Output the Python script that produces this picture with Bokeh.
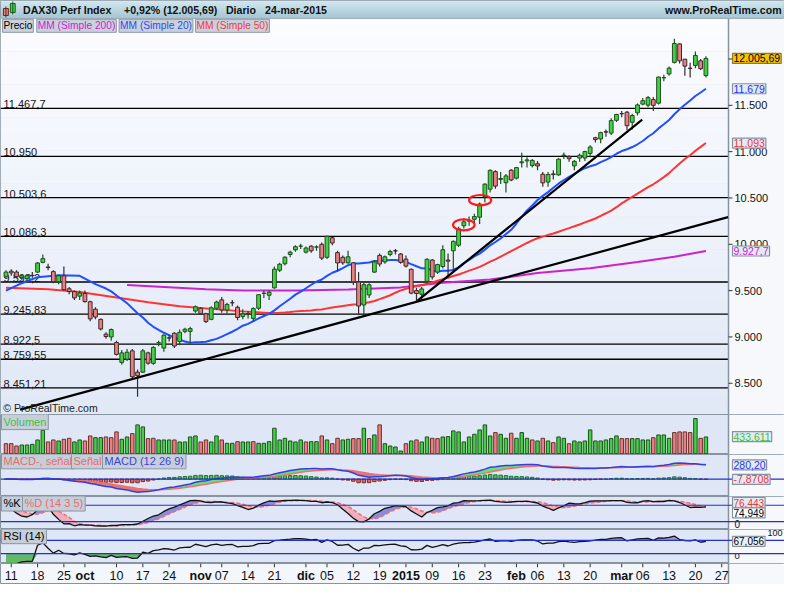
import numpy as np
import pandas as pd
from bokeh.plotting import figure
from bokeh.layouts import column
from bokeh.models import ColumnDataSource, Range1d, Label, BoxAnnotation, Span
from bokeh.embed import file_html
from bokeh.resources import INLINE
from bokeh.core.properties import value

FONT = "Liberation Sans"

# ---------------- data ----------------
holidays = ["2014-10-03", "2014-12-24", "2014-12-25", "2014-12-26", "2014-12-31", "2015-01-01"]

opens = [9650,9710,9700,9640,9630,9665,9700,9805,9755,9705,
         9595,9660,9520,9490,9440,9470,9380,9300,9190,9030,
         9000,8940,8725,8760,8850,8620,8620,8828,8715,8940,
         8880,8990,9040,8950,9060,9060,9280,9310,9250,9190,
         9310,9400,9290,9370,9320,9220,9250,9200,9310,9470,
         9450,9530,9720,9790,9890,9940,9980,9915,9980,9970,
         10000,9860,10070,9910,9860,9800,9800,9593,9345,9453,
         9700,9880,9810,9890,9930,9895,9840,9730,9500,9460,
         9600,9830,9700,9760,9830,9930,9990,10200,10250,10270,
         10293,10514,10595,10784,10700,10665,10800,10714,10880,10900,
         10850,10870,10756,10672,10760,10749,10955,10945,10847,10931,
         10931,10980,11150,11137,11215,11200,11338,11410,11426,11317,
         11419,11513,11502,11562,11523,11797,11839,11963,12163,11998,
         11900,11930,11980,11821]
highs = [9720,9730,9720,9680,9680,9700,9810,9891,9790,9720,
         9670,9760,9540,9500,9500,9500,9390,9320,9200,9050,
         9090,8960,8860,8870,8870,8650,8870,8840,8900,8960,
         9030,9020,9050,9080,9100,9110,9340,9320,9260,9330,
         9390,9430,9370,9400,9340,9300,9280,9320,9460,9500,
         9500,9760,9800,9870,9930,9990,10005,9975,9990,9990,
         10020,10093,10080,9930,9880,9930,9810,9700,9600,9580,
         9830,9900,9880,9940,9950,9905,9880,9740,9530,9540,
         9850,9840,9790,9990,9900,10040,10190,10280,10300,10330,
         10450,10660,10810,10800,10780,10760,10810,10835,10987,10940,
         10920,10900,10780,10780,10800,10930,10990,10960,10910,10980,
         11010,11070,11160,11215,11240,11360,11410,11440,11440,11410,
         11520,11580,11600,11590,11810,11830,11920,12219,12170,12000,
         11960,12080,12000,12030]
lows = [9640,9660,9630,9610,9600,9640,9690,9795,9720,9580,
        9570,9500,9460,9400,9400,9370,9170,9190,9070,8980,
        8960,8800,8700,8740,8550,8355,8610,8700,8700,8900,
        8840,8950,8880,8910,9040,8930,9260,9240,9150,9180,
        9290,9260,9250,9330,9180,9190,9200,9160,9290,9420,
        9400,9520,9700,9770,9860,9920,9950,9900,9910,9930,
        9830,9840,9990,9710,9780,9790,9560,9235,9219,9420,
        9690,9760,9790,9870,9890,9790,9750,9460,9380,9400,
        9580,9620,9680,9740,9640,9690,9970,10170,10200,10220,
        10220,10450,10560,10600,10650,10560,10680,10700,10830,10830,
        10830,10800,10620,10620,10700,10740,10920,10890,10800,10890,
        10900,10940,11100,11090,11160,11180,11320,11370,11230,11240,
        11390,11500,11480,11440,11510,11760,11820,11950,11950,11820,
        11800,11900,11880,11800]
closes = [9700,9691,9651,9660,9662,9661,9798,9845,9749,9595,
          9661,9510,9490,9422,9474,9382,9195,9215,9086,9005,
          9080,8812,8828,8835,8571,8582,8850,8717,8887,8940,
          9019,8988,8902,9050,9083,9090,9326,9251,9166,9315,
          9377,9291,9351,9369,9210,9249,9252,9306,9456,9472,
          9483,9732,9785,9861,9915,9974,9980,9960,9930,9971,
          9851,10087,10014,9799,9800,9865,9594,9334,9564,9563,
          9811,9787,9865,9922,9928,9805,9765,9473,9469,9518,
          9838,9648,9781,9941,9818,10032,10167,10242,10257,10299,
          10435,10649,10798,10628,10710,10738,10694,10828,10890,10911,
          10905,10846,10663,10753,10752,10919,10963,10924,10895,10961,
          11001,11050,11131,11205,11211,11335,11401,11409,11280,11390,
          11504,11550,11583,11500,11805,11799,11901,12167,11980,11923,
          11899,12039,11895,12006]
volumes_k = [255,255,196,221,221,238,349,595,298,349,
             323,366,391,298,349,323,451,408,408,425,
             408,553,366,425,510,731,680,383,391,349,
             349,349,349,298,298,425,451,298,349,298,
             451,349,264,264,306,298,298,306,264,264,
             306,646,349,391,323,298,349,298,306,306,
             451,349,255,391,349,366,383,383,646,383,
             476,731,255,196,
             170,68,255,323,349,298,425,391,383,425,
             434,578,553,298,425,493,604,731,451,536,
             493,391,519,391,536,391,349,323,391,323,
             281,425,391,255,323,298,323,604,323,323,
             349,383,451,383,383,383,383,349,349,408,
             476,476,391,536,553,553,536,893,391,425]
volume_up = ("rrrgggggrr" "grrggrrggr" "rrggrggrrg" "ggrggggrrg" "grggrggrgg"
             "gggggggrgg" "rgrrggrrgr" "grgg"
             "ggrgrggrrg" "gggggggggr" "ggrgggrgrg" "rggrgggggg"
             "gggrrggggr" "gggrrrrgrg")

# moving averages: values read before the computed window is complete
ma20_lead_idx = [0, 3, 6, 10, 14, 17]
ma20_lead_val = [9500, 9580, 9645, 9665, 9660, 9570]
ma50_lead_idx = [0, 8, 14, 21, 27, 33, 39, 45]
ma50_lead_val = [9531, 9514, 9486, 9426, 9374, 9332, 9303, 9276]
ma200_idx = [23, 30, 38, 45, 55, 65, 75, 83, 92, 101, 111, 120, 127, 133]
ma200_val = [9562, 9540, 9515, 9500, 9500, 9512, 9535, 9584, 9619, 9689, 9742, 9810, 9865, 9928]

levels = [11467.7, 10950, 10503.6, 10086.3, 9593.2, 9245.83, 8922.5, 8759.55, 8451.21]
level_labels = ["11.467,7", "10.950", "10.503,6", "10.086,3", "9.593,2", "9.245,83", "8.922,5", "8.759,55", "8.451,21"]

trend_long_idx = [2.68, 137.2]
trend_long_val = [8216, 10293]
trend_steep_idx = [78.2, 120.9]
trend_steep_val = [9391, 11345]

ellipse_idx = [87.0, 90.1]
ellipse_val = [10210, 10476]

price_ticks = [8500, 9000, 9500, 10000, 10500, 11000, 11500, 12000]
price_tick_labels = ["8.500", "9.000", "9.500", "10.000", "10.500", "11.000", "11.500", "12.000"]
tick_dates = ["2014-09-11", "2014-09-18", "2014-09-25", "2014-10-01", "2014-10-10", "2014-10-17", "2014-10-24",
              "2014-11-03", "2014-11-07", "2014-11-14", "2014-11-21", "2014-12-01", "2014-12-05", "2014-12-12",
              "2014-12-19", "2015-01-02", "2015-01-09", "2015-01-16", "2015-01-23", "2015-02-02", "2015-02-06",
              "2015-02-13", "2015-02-20", "2015-03-02", "2015-03-06", "2015-03-13", "2015-03-20", "2015-03-27"]
tick_labels = ["11", "18", "25", "oct", "10", "17", "24", "nov", "07", "14", "21", "dic", "05", "12", "19",
               "2015", "09", "16", "23", "feb", "06", "13", "20", "mar", "06", "13", "20", "27"]
month_labels = {"oct", "nov", "dic", "2015", "feb", "mar"}

# ---------------- derived ----------------
trading = [d.strftime("%Y-%m-%d") for d in pd.bdate_range("2014-09-10", "2015-03-31")
           if d.strftime("%Y-%m-%d") not in holidays]
pos = {d: i for i, d in enumerate(trading)}
N = len(closes)
idx = np.arange(N)
o = np.array(opens, float); h = np.array(highs, float); l = np.array(lows, float); c = np.array(closes, float)
cs = pd.Series(c)
ma20 = cs.rolling(20).mean().values
ma50 = cs.rolling(50).mean().values
ma20_x = ma20_lead_idx + list(range(19, N)); ma20_y = ma20_lead_val + list(ma20[19:])
ma50_x = ma50_lead_idx + list(range(49, N)); ma50_y = ma50_lead_val + list(ma50[49:])

ema12 = cs.ewm(span=12, adjust=False).mean(); ema26 = cs.ewm(span=26, adjust=False).mean()
macd = (ema12 - ema26).values
signal = pd.Series(macd).ewm(span=9, adjust=False).mean().values
hist = macd - signal

hh = pd.Series(h).rolling(14, min_periods=1).max(); ll = pd.Series(l).rolling(14, min_periods=1).min()
raw = 100 * (cs - ll) / (hh - ll)
stk = raw.rolling(3, min_periods=1).mean().values
std = pd.Series(stk).rolling(5, min_periods=1).mean().values

delta = cs.diff()
gain = delta.clip(lower=0).ewm(alpha=1 / 14, adjust=False).mean()
loss = (-delta.clip(upper=0)).ewm(alpha=1 / 14, adjust=False).mean()
rsi = (100 - 100 / (1 + gain / loss)).values
rsi[0] = rsi[1]

# ---------------- layout ----------------
W = 784
PXU = 728 / 138.334           # pixels per trading day
X0 = -1.044
XB = 137.29                   # boundary between plot area and value column
XR = Range1d(X0, X0 + W / PXU)
U = 1 / PXU                   # one pixel in x units
UP_FILL, UP_LINE = "#41d241", "#1f4f1f"
DN_FILL, DN_LINE = "#ea8080", "#3a2a2a"
RIGHT_BG = "#f7f8fb"
FRAME = "#8794a0"


def hexmix(c1, c2, t):
    a = [int(c1[i:i + 2], 16) for i in (1, 3, 5)]
    b = [int(c2[i:i + 2], 16) for i in (1, 3, 5)]
    return "#%02x%02x%02x" % tuple(int(round(a[j] + (b[j] - a[j]) * t)) for j in range(3))


def panel(hgt, yr, bg="#dfe6f5"):
    p = figure(frame_width=W, frame_height=hgt, x_range=XR, y_range=yr, output_backend="svg",
               toolbar_location=None, x_axis_location=None, y_axis_location=None, min_border=0)
    p.outline_line_color = FRAME
    p.border_fill_color = RIGHT_BG
    p.background_fill_color = bg
    p.grid.visible = False
    return p


def right_column(p):
    p.add_layout(BoxAnnotation(left=XB, fill_color=RIGHT_BG, fill_alpha=1, line_alpha=0, level="underlay"))
    p.add_layout(Span(location=XB, dimension="height", line_color=FRAME, line_width=1.5, level="underlay"))


def gradient(p, y0, y1, ctop, cbot, n=24):
    for k in range(n):
        b = y0 + (y1 - y0) * k / n
        t = y0 + (y1 - y0) * (k + 1) / n
        col = hexmix(cbot, ctop, (k + 0.5) / n)
        p.add_layout(BoxAnnotation(bottom=b, top=t, right=XB, fill_color=col, fill_alpha=1, line_alpha=0,
                                   level="underlay"))


def tag(p, y, text, color, bg="#e3eaf5", border="#8592a0", size="10.5px"):
    p.add_layout(Label(x=XB + 4 * U, y=y, text=text, text_color=color, text_font=FONT,
                       text_font_size=size, text_baseline="middle", text_align="left",
                       background_fill_color=bg, border_line_color=border, border_line_width=1.2, padding=1))


def plain(p, y, text, size="10.5px", baseline="middle", dx=6):
    p.text(x=[XB + dx * U], y=[y], text=[text], text_font=value(FONT), text_font_size=value(size),
           text_baseline=baseline, text_color="#111111")


def boxlabel(p, xs, y, text, color, size="11px"):
    p.add_layout(Label(x=xs, x_units="screen", y=y, text=text, text_color=color, text_font=FONT,
                       text_font_size=size, text_baseline="middle", background_fill_color="#c6cfd9",
                       border_line_color="#8996a3", padding=2))


# ----- title bar -----
tb = figure(frame_width=W, frame_height=18, x_range=Range1d(0, 800), y_range=Range1d(18, 0),
            output_backend="svg", toolbar_location=None, x_axis_location=None, y_axis_location=None,
            min_border=0)
tb.outline_line_color = FRAME
tb.grid.visible = False
tb.background_fill_color = "#b8d5e0"
for k in range(9):
    tb.add_layout(BoxAnnotation(bottom=2 * k, top=2 * k + 2, fill_color=hexmix("#d6e9f0", "#a2c5d3", k / 8),
                                fill_alpha=1, line_alpha=0, level="underlay"))
tb.quad(left=[3, 10], right=[8, 15], top=[8, 3], bottom=[15, 12], fill_color=[DN_FILL, UP_FILL],
        line_color=["#5e2a2a", "#1d5e1d"])
tb.segment(x0=[5.5, 12.5], y0=[6, 1], x1=[5.5, 12.5], y1=[17, 14], line_color=["#5e2a2a", "#1d5e1d"])
tb.text(x=[23, 126, 230, 270], y=[9.5] * 4,
        text=["DAX30 Perf Index", "+0,92% (12.005,69)", "Diario", "24-mar-2015"],
        text_font=value(FONT), text_font_size=value("10.6px"), text_font_style="bold",
        text_baseline="middle", text_color="#111111")
tb.text(x=[797], y=[9.5], text=["www.ProRealTime.com"], text_font=value(FONT), text_font_size=value("10.6px"),
        text_font_style="bold", text_baseline="middle", text_align="right", text_color="#111111")

# ----- main price panel -----
Y0, Y1 = 8163, 12437
main = panel(396, Range1d(Y0, Y1))
gradient(main, Y0, Y1, "#fbfcff", "#e0e8f6")
for v in levels:
    main.add_layout(Span(location=v, dimension="width", line_color="#000000", line_width=1.3, level="underlay"))
right_column(main)
for v, t in zip(levels, level_labels):
    main.add_layout(Label(x=3, x_units="screen", y=v, text=t, text_font=FONT, text_font_size="11px",
                          text_color="#111111", text_baseline="bottom", level="underlay"))

main.line(ma200_idx, ma200_val, line_color="#cc22cc", line_width=2)
main.line(ma50_x, ma50_y, line_color="#ff3333", line_width=2)
main.line(ma20_x, ma20_y, line_color="#1f4fff", line_width=2)

up = c >= o
for mask, fc, lc in ((up, UP_FILL, UP_LINE), (~up, DN_FILL, DN_LINE)):
    src = ColumnDataSource(dict(x=idx[mask], top=np.maximum(o, c)[mask], bottom=np.minimum(o, c)[mask],
                                high=h[mask], low=l[mask]))
    main.segment(x0="x", y0="low", x1="x", y1="high", line_color=lc, line_width=1.2, source=src)
    main.vbar(x="x", width=0.72, top="top", bottom="bottom", fill_color=fc, line_color=lc, line_width=1,
              source=src)

main.line(trend_long_idx, trend_long_val, line_color="#000000", line_width=2.2)
main.line(trend_steep_idx, trend_steep_val, line_color="#000000", line_width=2.2)
main.ellipse(x=ellipse_idx, y=ellipse_val, width=[4.1, 4.2], height=[118, 112], fill_alpha=0,
             line_color="#ff1a1a", line_width=2.2)

main.text(x=[-0.5], y=[8237], text=["© ProRealTime.com"], text_font=value(FONT), text_font_size=value("10.5px"),
          text_baseline="middle", text_color="#222222")

# legend row
leg = [(2, "Precio", "#000000"), (37, "MM (Simple 200)", "#cc22cc"), (121, "MM (Simple 20)", "#2a4cf0"),
       (199, "MM (Simple 50)", "#f03c3c")]
for xs, t, col in leg:
    main.add_layout(Label(x=xs * 0.98, x_units="screen", y=12358, text=t, text_color=col, text_font=FONT,
                          text_font_size="10.2px", text_baseline="middle", background_fill_color="#c9d2dc",
                          border_line_color="#8c99a6", padding=1))

# value column of the price panel
main.segment(x0=[XB] * len(price_ticks), y0=price_ticks, x1=[XB + 4 * U] * len(price_ticks), y1=price_ticks,
             line_color="#333333", line_width=1)
main.text(x=[XB + 6 * U] * len(price_ticks), y=price_ticks, text=price_tick_labels, text_font=value(FONT),
          text_font_size=value("11px"), text_baseline="middle", text_color="#111111")
tag(main, 12005.69, "12.005,69", "#000000", bg="#f6c400", border="#8a7a40")
tag(main, 11679, "11.679", "#2233ee")
tag(main, 11093, "11.093", "#ee3333")
tag(main, 9927.7, "9.927,7", "#cc22cc")

# ----- volume -----
vol = panel(40, Range1d(-20000, 995000))
right_column(vol)
vcols = [UP_FILL if s == "g" else DN_FILL for s in volume_up]
vlines = [UP_LINE if s == "g" else "#6e2e2e" for s in volume_up]
vol.vbar(x=idx, width=0.66, top=np.array(volumes_k) * 1000, bottom=0, fill_color=vcols, line_color=vlines,
         line_width=1)
boxlabel(vol, 1, 815000, "Volumen", "#3fbf3f")
tag(vol, 433611, "433.611", "#3fbf3f")

# ----- MACD -----
mp = panel(42, Range1d(-345, 485))
right_column(mp)
mp.varea(x=idx, y1=signal, y2=np.maximum(macd, signal), fill_color="#5fdc6f", fill_alpha=0.9)
mp.varea(x=idx, y1=signal, y2=np.minimum(macd, signal), fill_color="#e06a6a", fill_alpha=0.9)
hp = hist >= 0
mp.vbar(x=idx[hp], width=0.66, top=hist[hp], bottom=0, fill_color="#44cc44", line_color="#227722")
mp.vbar(x=idx[~hp], width=0.66, top=0, bottom=hist[~hp], fill_color="#e06666", line_color="#7a2d2d")
mp.add_layout(Span(location=0, dimension="width", line_color="#2233cc", line_width=1.2))
mp.line(idx, signal, line_color="#f07070", line_width=1.5)
mp.line(idx, macd, line_color="#3340e0", line_width=1.5)
boxlabel(mp, 1, 360, "MACD-, señal", "#e86c6c")
boxlabel(mp, 71, 360, "Señal", "#e86c6c")
boxlabel(mp, 102, 360, "MACD (12 26 9)", "#3b44d8")
tag(mp, 280.20, "280,20", "#2233ee")
tag(mp, -7.8708, "-7,8708", "#ee3333")

# ----- Stochastic -----
sp = panel(33, Range1d(-9, 112))
right_column(sp)
sp.varea(x=idx, y1=std, y2=np.maximum(stk, std), fill_color="#7f82d8", fill_alpha=0.9)
sp.varea(x=idx, y1=std, y2=np.minimum(stk, std), fill_color="#f1a8b8", fill_alpha=0.9)
for lv in (80, 20):
    sp.add_layout(Span(location=lv, dimension="width", line_color="#2233cc", line_width=1.2))
sp.line(idx, std, line_color="#f07070", line_width=1.5, line_dash="4 2")
sp.line(idx, stk, line_color="#111111", line_width=1.3)
boxlabel(sp, 1, 88, "%K", "#000000")
boxlabel(sp, 22, 88, "%D (14 3 5)", "#e86c6c")
plain(sp, 12, "0", size="10px")
tag(sp, 90, "76,443", "#ee3333", size="10px")
tag(sp, 52, "74,949", "#000000", bg="#ffffff", size="10px")

# ----- RSI -----
rp = panel(34, Range1d(0.7, 102.5))
right_column(rp)
rp.varea(x=idx, y1=70, y2=np.maximum(rsi, 70), fill_color="#9d86c8", fill_alpha=0.9)
rp.varea(x=idx, y1=30, y2=np.minimum(rsi, 30), fill_color="#55b455", fill_alpha=0.9)
for lv in (70, 30):
    rp.add_layout(Span(location=lv, dimension="width", line_color="#2233cc", line_width=1.2))
rp.line(idx, rsi, line_color="#111111", line_width=1.3)
boxlabel(rp, 1, 84, "RSI (14)", "#000000")
plain(rp, 100, "100", size="9px", baseline="top", dx=39)
plain(rp, 22, "0", size="9.5px", baseline="middle")
tag(rp, 67.056, "67,056", "#000000", bg="#eef2f8", size="10px")

# ----- date axis row -----
xa = panel(21, Range1d(0, 1), bg="#f3f6fb")
right_column(xa)
tick_x = [pos[d] for d in tick_dates]
xa.segment(x0=tick_x, y0=[1.0] * len(tick_x), x1=tick_x, y1=[0.82] * len(tick_x), line_color="#333333")
xa.text(x=tick_x, y=[0.42] * len(tick_x), text=tick_labels,
        text_font_style=["bold" if t in month_labels else "normal" for t in tick_labels],
        text_font=value(FONT), text_font_size=value("12.5px"), text_align="center", text_baseline="middle",
        text_color="#111111")

layout = column(tb, main, vol, mp, sp, rp, xa, spacing=0)
open("out.html", "w").write(file_html(layout, INLINE))
